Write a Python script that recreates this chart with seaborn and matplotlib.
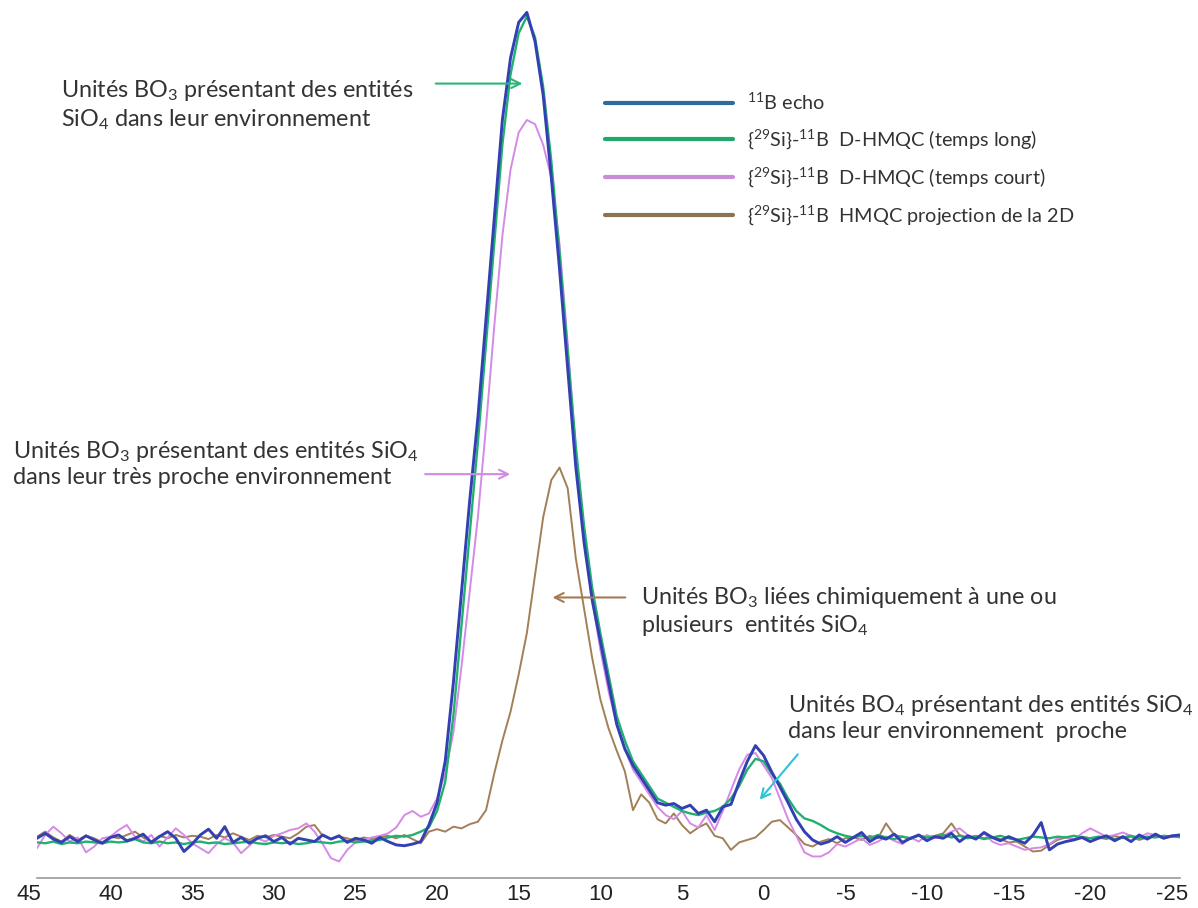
import numpy as np
import matplotlib
matplotlib.use("Agg")
import matplotlib.pyplot as plt
import seaborn as sns
from matplotlib.lines import Line2D
from matplotlib.transforms import ScaledTranslation

# chemical shift axis (ppm), 0.5 ppm sampling from 45 to -25
ppm = np.linspace(45, -25, 141)

echo_11B = [
    0.2, 0.8, 0.1, -0.3, 0.4, -0.2, 0.5, 0.0, -0.4, 0.3,
    0.6, -0.1, 0.2, 0.7, -0.3, 0.4, 1.0, 0.2, -1.4, -0.5,
    0.6, 1.3, 0.2, 1.6, -0.3, 0.3, -0.4, 0.2, 0.5, -0.2,
    0.3, -0.5, 0.2, 0.0, -0.2, 0.6, 0.1, 0.5, -0.3, 0.2,
    0.0, -0.4, 0.3, -0.2, -0.6, -0.7, -0.5, -0.2, 1.8, 4.5,
    9.5, 19, 30, 41, 51, 63, 75, 87, 94.5, 98.8,
    100, 96.5, 90, 80, 69, 57, 45, 36, 29, 24,
    19, 14, 11, 9, 7.5, 6, 4.5, 4.2, 4.4, 3.8,
    4.2, 3.2, 3.6, 2.2, 4.0, 4.3, 7.0, 9.5, 11.4, 10.2,
    8.2, 6.4, 4.5, 2.5, 1.0, 0.0, -0.5, -0.2, 0.4, -0.3,
    0.3, 0.9, -0.2, 0.4, 0.1, 0.7, -0.3, 0.2, 0.6, -0.1,
    0.4, 0.2, 0.8, -0.2, 0.5, 0.1, 0.9, 0.3, -0.1, 0.4,
    0.0, -0.4, 0.6, 2.1, -1.2, -0.5, -0.2, 0.0, 0.3, -0.2,
    0.2, 0.5, -0.1, 0.4, -0.2, 0.6, 0.1, 0.7, 0.2, 0.5,
    0.6,
]

dhmqc_long = [
    -0.3, -0.4, -0.2, -0.5, -0.3, -0.4, -0.2, -0.3, -0.4, -0.2,
    -0.3, -0.2, 0.1, -0.3, -0.4, -0.2, -0.4, -0.3, -0.5, -0.3,
    -0.2, -0.4, -0.3, -0.5, -0.4, -0.3, -0.2, -0.4, -0.5, -0.3,
    -0.4, -0.3, -0.5, -0.4, -0.2, -0.3, -0.4, -0.2, -0.1, -0.3,
    -0.2, -0.1, 0.0, 0.3, 0.5, 0.4, 0.6, 1.0, 1.5, 3.5,
    7, 15, 26, 37, 48, 60, 72, 84, 92.5, 97.5,
    99.5, 97, 91, 82, 71, 59, 47.5, 38, 30.5, 25,
    20, 15, 12, 9.5, 8, 6.5, 5, 4.5, 4, 3.5,
    3.2, 3.0, 3.3, 3.5, 4.0, 5.0, 6.5, 8.5, 9.8, 9.5,
    8.0, 6.8, 5.0, 3.5, 2.6, 2.3, 1.8, 1.2, 0.8, 0.5,
    0.3, 0.5, 0.2, 0.6, 0.3, 0.1, 0.4, 0.2, 0.5, 0.3,
    0.4, 0.6, 0.3, 0.5, 0.2, 0.4, 0.1, 0.3, 0.5, 0.2,
    0.0, 0.2, 0.4, 0.3, 0.2, 0.4, 0.3, 0.5, 0.3, 0.2,
    0.4, 0.3, 0.1, 0.3, 0.5, 0.2, 0.4, 0.3, 0.5, 0.4,
    0.5,
]

dhmqc_short = [
    -1.0, 0.6, 1.6, 0.8, -0.2, 0.3, -1.5, -0.8, 0.2, 0.4,
    1.2, 1.8, 0.4, -0.2, 0.6, -0.8, 0.3, 1.4, 0.6, -0.4,
    -1.0, -1.6, -0.5, 0.2, -0.3, -1.6, -0.7, 0.2, -0.2, 0.5,
    0.8, 1.2, 1.4, 2.0, 1.0, -0.5, -2.2, -2.6, -1.2, -0.3,
    0.0, 0.3, 0.5, 0.8, 1.5, 3.0, 3.5, 2.8, 3.2, 5.0,
    8, 13, 21, 30, 39, 50, 62, 73, 81, 85.5,
    87, 86.5, 84, 80, 72, 60, 47, 36, 29, 23,
    18, 14, 11, 8.5, 7, 5.5, 4, 3, 2.5, 3.5,
    2, 1.5, 3, 1.2, 3.5, 6, 8.5, 10.3, 10.5, 9,
    7.5, 5, 2.5, 0.5, -1.5, -2.0, -2.0, -1.5, -0.5, -0.8,
    -0.3, 0.2, -0.6, -0.2, 0.4, -0.1, -0.5, 0.3, -0.2, 0.6,
    0.2, 0.5, 1.0, 1.4, 0.6, 0.2, 0.8, -0.2, -0.6, -0.4,
    -0.8, -1.2, -1.0, -0.9, -0.5, 0.2, 0.4, 0.0, 0.8, 1.4,
    0.9, 0.4, 0.6, 0.9, 0.5, 0.3, 0.8, 0.6, 0.2, 0.4,
    0.5,
]

hmqc_2d = [
    0.4, 1.0, 0.3, -0.2, 0.6, 0.0, 0.5, 0.2, -0.3, 0.4,
    0.2, 0.6, 1.0, 0.3, -0.2, 0.5, 0.2, 0.6, 0.3, 0.5,
    0.4, 0.1, 0.6, 0.3, 0.8, 0.4, 0.0, 0.5, 0.3, 0.6,
    0.4, 0.2, 0.8, 1.6, 1.8, 0.5, 0.1, 0.4, 0.2, -0.1,
    0.3, 0.1, 0.4, 0.5, 0.2, 0.6, 0.1, -0.4, 1.0, 1.3,
    1.0, 1.6, 1.4, 1.9, 2.2, 3.6, 8, 12, 15.5, 20,
    25, 32, 39, 43.5, 45, 42.5, 34, 28, 22, 17,
    13.5, 10.8, 8.3, 3.6, 5.5, 4.5, 2.5, 2.0, 3.2, 1.8,
    0.8, 1.5, 2.0, 0.5, 0.2, -1.2, -0.3, 0.0, 0.3, 1.2,
    2.2, 2.4, 1.5, 0.6, -0.5, -0.8, -0.2, 0.1, -0.4, 0.2,
    0.3, 0.0, 0.5, 0.2, 2.0, 0.6, 0.4, 0.1, 0.6, 0.3,
    0.5, 0.8, 2.0, 0.6, 0.3, 0.5, 0.2, 0.4, 0.1, -0.3,
    -0.2, -0.8, -1.4, -1.3, -0.6, 0.0, 0.3, 0.1, 0.4, 0.2,
    0.3, 0.1, 0.5, 0.2, 0.4, 0.0, 0.3, 0.5, 0.2, 0.4,
    0.3,
]

legend_labels = [
    r"$^{11}$B echo",
    r"{$^{29}$Si}-$^{11}$B  D-HMQC (temps long)",
    r"{$^{29}$Si}-$^{11}$B  D-HMQC (temps court)",
    r"{$^{29}$Si}-$^{11}$B  HMQC projection de la 2D",
]
tick_values = [45, 40, 35, 30, 25, 20, 15, 10, 5, 0, -5, -10, -15, -20, -25]
tick_labels = [str(v) for v in tick_values]

c_blue, c_green, c_pink, c_brown = "#3340b4", "#22b070", "#d58ae6", "#a37f57"
c_blue_leg, c_green_leg, c_pink_leg, c_brown_leg = "#2f6b9c", "#20a76b", "#c98cd8", "#8c7452"

sns.set_theme(style="white")
plt.rcParams["font.family"] = ["Lato", "DejaVu Sans"]
plt.rcParams["mathtext.default"] = "regular"

fig = plt.figure(figsize=(11.98, 9.08), dpi=100)
ax = fig.add_axes([37 / 1198, 30 / 908, 1143 / 1198, 878 / 908])

sns.lineplot(x=ppm, y=hmqc_2d, color=c_brown, lw=1.4, ax=ax)
sns.lineplot(x=ppm, y=dhmqc_short, color=c_pink, lw=1.4, ax=ax)
sns.lineplot(x=ppm, y=dhmqc_long, color=c_green, lw=1.7, ax=ax)
sns.lineplot(x=ppm, y=echo_11B, color=c_blue, lw=2.1, ax=ax)

ax.set_xlim(45, -25)
ax.set_ylim(-4.6, 101.5)
ax.set_yticks([])
ax.set_xlabel("")
ax.set_ylabel("")
for s in ["left", "right", "top"]:
    ax.spines[s].set_visible(False)
ax.spines["bottom"].set_color("#9a9a9a")
ax.spines["bottom"].set_linewidth(1.2)
ax.set_xticks(tick_values)
ax.set_xticklabels(tick_labels)
ax.tick_params(axis="x", direction="inout", length=9, width=1, color="#8a8a8a",
               pad=0, labelsize=16, labelcolor="#222222")
off = ScaledTranslation(-8 / 100, 0, fig.dpi_scale_trans)
for lab in ax.get_xticklabels():
    lab.set_fontfamily(["Liberation Sans", "DejaVu Sans"])
    lab.set_transform(lab.get_transform() + off)

handles = [Line2D([], [], color=c, lw=3) for c in
           [c_blue_leg, c_green_leg, c_pink_leg, c_brown_leg]]
ax.legend(handles, legend_labels, loc="upper left",
          bbox_to_anchor=(605 / 1198, 1 - 92 / 908), bbox_transform=fig.transFigure,
          frameon=False, fontsize=14.3, handlelength=6.45, handletextpad=0.7,
          labelspacing=0.72, borderpad=0, borderaxespad=0, labelcolor="#333333")

txt = dict(fontsize=16.8, color="#333333", ha="left", va="center", linespacing=1.2,
           clip_on=False)
ax.text(43.5, 88.8, "Unités BO$_3$ présentant des entités\nSiO$_4$ dans leur environnement", **txt)
ax.text(46.5, 45.5, "Unités BO$_3$ présentant des entités SiO$_4$\ndans leur très proche environnement", **txt)
ax.text(8.0, 27.6, "Unités BO$_3$ liées chimiquement à une ou\nplusieurs  entités SiO$_4$", **txt)
ax.text(-1.0, 14.8, "Unités BO$_4$ présentant des entités SiO$_4$\ndans leur environnement  proche", **txt)

arr = dict(arrowstyle="->", lw=1.5, mutation_scale=16)
ax.annotate("", xy=(15.1, 91.4), xytext=(20.75, 91.4), arrowprops=dict(color="#2bb57a", **arr))
ax.annotate("", xy=(15.85, 44.2), xytext=(21.4, 44.2), arrowprops=dict(color="#cf8be0", **arr))
ax.annotate("", xy=(13.6, 29.3), xytext=(8.8, 29.3), arrowprops=dict(color="#a57a50", **arr))
ax.annotate("", xy=(0.85, 4.6), xytext=(-1.7, 10.6), arrowprops=dict(color="#2ec4d8", **arr))

fig.savefig("out.png", dpi=100, facecolor="white")
